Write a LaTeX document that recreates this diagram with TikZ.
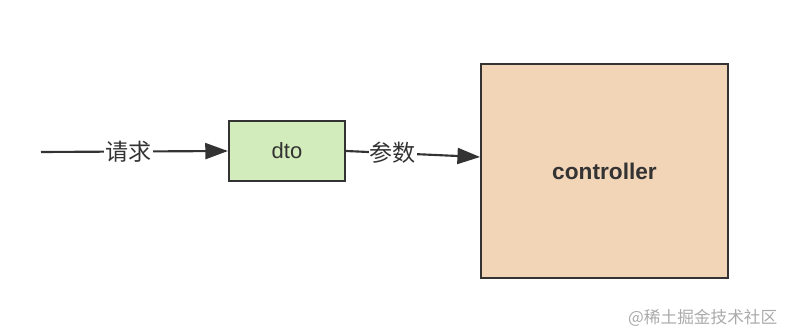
\documentclass[tikz,border=0pt]{standalone}
\usepackage{fontspec}
\setmainfont{Liberation Sans}
\newfontfamily\cjk{Noto Sans CJK SC}
\usetikzlibrary{arrows.meta}
\definecolor{ink}{HTML}{333333}
\definecolor{dtogreen}{HTML}{D3ECBB}
\definecolor{ctrlbeige}{HTML}{F2D4B6}
\definecolor{mark}{HTML}{AAAAAA}
\tikzset{
  box/.style={draw=ink,line width=1.6pt,text=ink,inner sep=0pt,
    font=\fontsize{16.5}{19}\selectfont},
  dtobox/.style={box,fill=dtogreen,minimum width=87pt,minimum height=45pt},
  ctrlbox/.style={box,fill=ctrlbeige,minimum width=185pt,minimum height=161pt,
    font=\fontsize{17}{20}\selectfont\bfseries},
  fl/.style={draw=ink,line width=1.6pt,-{Triangle[length=17pt,width=12pt]}},
  lbl/.style={font=\cjk\fontsize{17.3}{20}\selectfont,text=ink,fill=white,
    inner sep=1pt},
}
\begin{document}
\begin{tikzpicture}[x=0.75pt,y=-0.75pt]
  \useasboundingbox (0,0) rectangle (788,334);
  \coordinate (src) at (41,152);
  \node[dtobox] (dto) at (287,151) {dto};
  \node[ctrlbox] (ctrl) at (604.5,171) {controller};
  \draw[fl] (src) -- node[lbl,pos=0.47] {请求} (dto.west);
  \draw[fl] (dto.east) -- node[lbl,pos=0.35] {参数} ([yshift=10.5pt]ctrl.west);
  % watermark
  \node[font=\cjk\fontsize{12.5}{15}\selectfont,text=mark,anchor=east] (wm)
    at (782,318) {@稀土掘金技术社区};
\end{tikzpicture}
\end{document}
